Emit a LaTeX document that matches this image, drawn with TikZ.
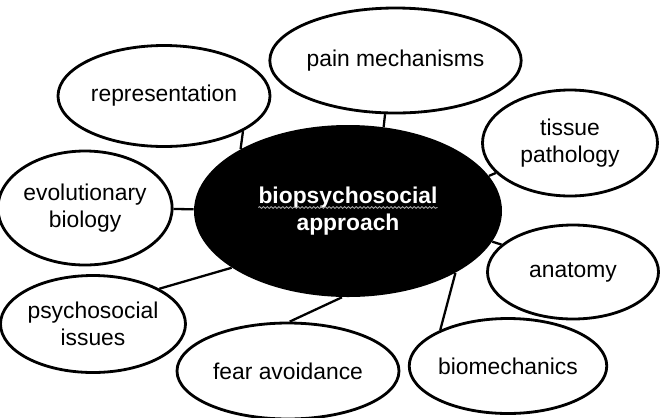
\documentclass[tikz,border=0pt]{standalone}
\usepackage{fontspec}
\setmainfont{Liberation Sans}
\usetikzlibrary{shapes.geometric, decorations.pathmorphing}

\begin{document}
\begin{tikzpicture}[
    x=0.2mm, y=-0.2mm,
    every node/.style={font=\fontsize{13}{15.5}\selectfont},
    topic/.style={ellipse, draw=black, line width=1.6pt, fill=white, inner sep=0pt, align=center},
    hub/.style={ellipse, fill=black, inner sep=0pt, align=center, text=white, font=\fontsize{13}{15.5}\selectfont\bfseries},
    link/.style={draw, line width=1.3pt},
    squiggle/.style={draw=gray!70, line width=0.5pt, decorate, decoration={snake, amplitude=0.5pt, segment length=2.2pt}}
]
\useasboundingbox (0,0) rectangle (660,417);
% central idea
\node[hub, minimum width=61.6mm, minimum height=34.4mm] (bps) at (348,211) {biopsychosocial\\approach};
\draw[squiggle] ([xshift=-51pt, yshift=2pt]bps.center) -- ([xshift=51pt, yshift=2pt]bps.center);
% surrounding topics
\node[topic, minimum width=42.4mm, minimum height=20.2mm] (rep) at (164,96) {representation};
\node[topic, minimum width=42.2mm, minimum height=21mm] (pain) at (395.5,60.5) {pain mechanisms};
\node[topic, minimum width=35mm, minimum height=21.2mm] (tissue) at (570,143) {tissue\\pathology};
\node[topic, minimum width=31.2mm, minimum height=22.8mm] (evol) at (85,208) {evolutionary\\biology};
\node[topic, minimum width=34.2mm, minimum height=18.8mm] (anat) at (573,272) {anatomy};
\node[topic, minimum width=34.2mm, minimum height=19.4mm] (psych) at (93,324) {psychosocial\\issues};
\node[topic, minimum width=44.4mm, minimum height=19.2mm] (fear) at (288,371) {fear avoidance};
\node[topic, minimum width=38mm, minimum height=19mm] (biom) at (508,366) {biomechanics};
% links to the centre
\draw[link] (rep.-24.8) -- (bps.150.4);
\draw[link] (pain.-101.4) -- (bps.67.9);
\draw[link] (tissue.-158.2) -- (bps.14.9);
\draw[link] (evol) -- (bps);
\draw[link] (anat.159.7) -- (bps.-12.1);
\draw[link] (biom.152.6) -- (bps.-30);
\draw[link] (fear.88) -- (bps.-94);
\draw[link] (psych.28.3) -- (bps.206.8);
\end{tikzpicture}
\end{document}
